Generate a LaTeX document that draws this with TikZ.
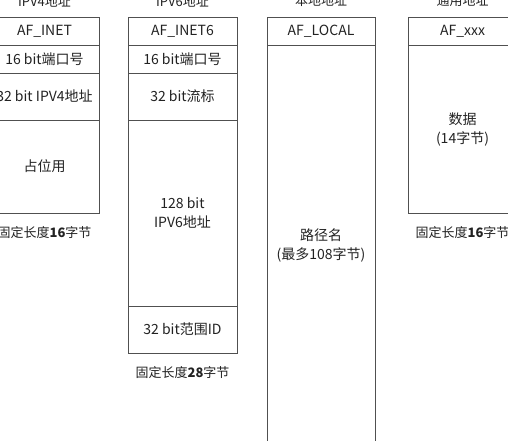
\documentclass[tikz,border=0pt]{standalone}
\usepackage{fontspec}
\setmainfont{Noto Sans CJK SC}
\usetikzlibrary{positioning}
\definecolor{boxline}{RGB}{80,80,80}
\definecolor{boxtext}{RGB}{34,34,34}
\newcommand{\widthfield}{109pt}
\tikzset{
    field/.style={draw=boxline, rectangle, line width=0.9pt, outer sep=0pt, inner sep=0pt,
        minimum width=\widthfield, align=center, text=boxtext,
        font=\fontsize{14}{19}\selectfont},
    row/.style={field, minimum height=#1},
    head/.style={row=28pt, anchor=north},
    title/.style={inner sep=0pt, text=boxtext, font=\fontsize{13}{16}\selectfont},
    caption/.style={inner sep=0pt, text=boxtext, font=\fontsize{13}{15}\selectfont}
}
\begin{document}
\begin{tikzpicture}[x=1pt, y=-1pt]
    \useasboundingbox (0,0) rectangle (508,440);
    \clip (0,0) rectangle (508,440);

    % IPV4
    \node[head] (v4-head) at (44.5,17) {AF\_INET};
    \node[row=28pt, below=0pt of v4-head] (v4-port) {16 bit端口号};
    \node[row=47pt, below=0pt of v4-port] (v4-addr) {32 bit IPV4地址};
    \node[row=93pt, below=0pt of v4-addr] (v4-pad) {占位用};
    \node[title, above=10pt of v4-head] (v4-title) {IPV4地址};
    \node[caption, below=13pt of v4-pad] (v4-len) {固定长度\textbf{16}字节};

    % IPV6
    \node[head] (v6-head) at (182.5,17) {AF\_INET6};
    \node[row=28pt, below=0pt of v6-head] (v6-port) {16 bit端口号};
    \node[row=47pt, below=0pt of v6-port] (v6-flow) {32 bit流标};
    \node[row=186pt, below=0pt of v6-flow] (v6-addr) {128 bit\\IPV6地址};
    \node[row=47pt, below=0pt of v6-addr] (v6-scope) {32 bit范围ID};
    \node[title, above=10pt of v6-head] (v6-title) {IPV6地址};
    \node[caption, below=13pt of v6-scope] (v6-len) {固定长度\textbf{28}字节};

    % local
    \node[head, minimum width=108pt] (loc-head) at (321,17) {AF\_LOCAL};
    \node[row=400pt, minimum width=108pt, below=0pt of loc-head] (loc-path) {路径名\\(最多108字节)};
    \node[title, above=10pt of loc-head] (loc-title) {本地地址};

    % generic
    \node[head] (gen-head) at (462.5,17) {AF\_xxx};
    \node[row=168pt, below=0pt of gen-head] (gen-data) {数据\\(14字节)};
    \node[title, above=10pt of gen-head] (gen-title) {通用地址};
    \node[caption, below=13pt of gen-data] (gen-len) {固定长度\textbf{16}字节};
\end{tikzpicture}
\end{document}
